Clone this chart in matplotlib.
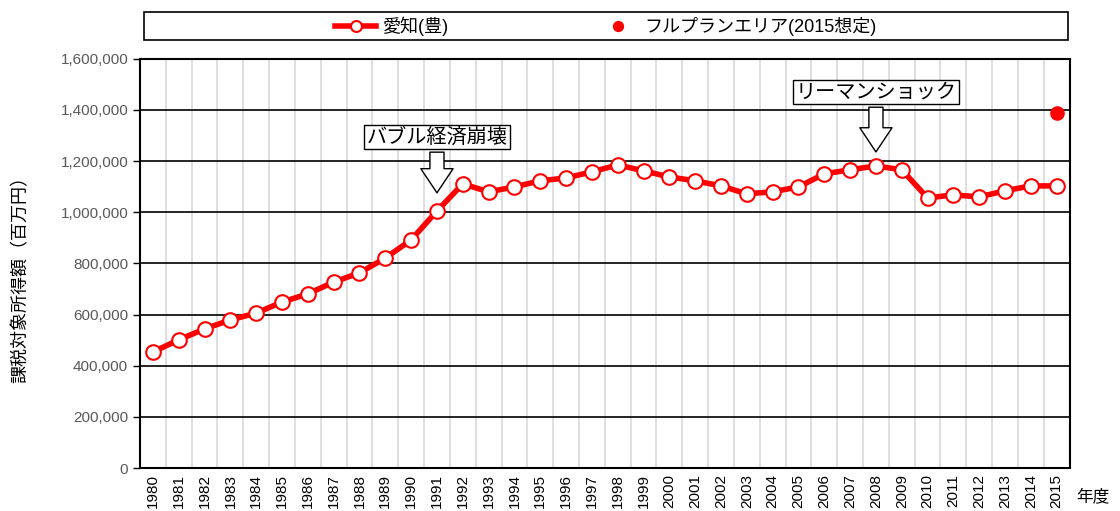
import matplotlib
matplotlib.use('Agg')
import matplotlib.pyplot as plt
from matplotlib.patches import Rectangle
from matplotlib.ticker import FuncFormatter, MultipleLocator

plt.rcParams['font.family'] = ['Liberation Sans', 'Noto Sans CJK JP', 'DejaVu Sans']

years = list(range(1980, 2016))
income = [454000, 501000, 544000, 579000, 606000, 649000, 681000, 727000, 763000,
          821000, 892000, 1005000, 1111000, 1080000, 1099000, 1123000, 1134000,
          1158000, 1185000, 1162000, 1138000, 1123000, 1103000, 1072000, 1080000,
          1099000, 1150000, 1166000, 1181000, 1166000, 1056000, 1068000, 1060000,
          1084000, 1103000, 1103000]
plan_year = 2015
plan_value = 1389000

x = list(range(len(years)))
plan_x = years.index(plan_year)

fig = plt.figure(figsize=(11.2, 5.11), dpi=100)
ax = fig.add_axes([0.125, 0.084, 0.830, 0.801])

ax.plot(x, income, color='red', lw=4, marker='o', ms=10.5, mfc='white',
        mec='red', mew=1.5, label='愛知(豊)', zorder=3)
ax.plot([plan_x], [plan_value], ls='none', marker='o', ms=9.5, color='red',
        label='フルプランエリア(2015想定)', zorder=3)

ax.set_xlim(-0.5, len(years) - 0.5)
ax.set_ylim(0, 1600000)
ax.yaxis.set_major_locator(MultipleLocator(200000))
ax.yaxis.set_major_formatter(FuncFormatter(lambda v, p: '{:,.0f}'.format(v)))
ax.set_xticks(x)
ax.set_xticklabels([str(y) for y in years], rotation=90, fontsize=11)
ax.set_xticks([i + 0.5 for i in x[:-1]], minor=True)
ax.tick_params(axis='x', which='both', length=0, pad=4)
ax.tick_params(axis='y', length=5, width=1, colors='black', labelcolor='#595959', labelsize=11)
ax.grid(axis='y', which='major', color='black', lw=1.2, zorder=0)
ax.grid(axis='x', which='minor', color='#d9d9d9', lw=1.2, zorder=0)
for s in ax.spines.values():
    s.set_linewidth(1.5)
    s.set_color('black')
ax.set_axisbelow(True)

ax.set_ylabel('課税対象所得額（百万円）', fontsize=13)
ax.yaxis.set_label_coords(-0.119, 0.472)
fig.text(0.976, 0.028, '年度', fontsize=12, ha='center', va='center')

arrow = dict(arrowstyle='simple,head_width=1.6,head_length=1.2,tail_width=0.7',
             fc='white', ec='black', lw=1)
box = dict(boxstyle='square,pad=0.12', fc='white', ec='black', lw=1)
ax.annotate('バブル経済崩壊', xy=(years.index(1991), 1065000),
            xytext=(years.index(1991), 1295000), ha='center', va='center',
            fontsize=14.5, bbox=box, arrowprops=arrow, zorder=5)
ax.annotate('リーマンショック', xy=(years.index(2008), 1225000),
            xytext=(years.index(2008), 1470000), ha='center', va='center',
            fontsize=14.5, bbox=box, arrowprops=arrow, zorder=5)

# legend frame drawn separately, entries centred inside it
fig.add_artist(Rectangle((0.129, 0.921), 0.825, 0.055, transform=fig.transFigure,
                         fc='white', ec='black', lw=1.2))
leg = fig.legend(loc='center', bbox_to_anchor=(0.541, 0.948), ncol=2, fontsize=13,
                 frameon=False, borderaxespad=0, handlelength=2.3, handletextpad=0.35,
                 markerscale=0.75, columnspacing=8.2)

fig.savefig('out.png', dpi=100)
